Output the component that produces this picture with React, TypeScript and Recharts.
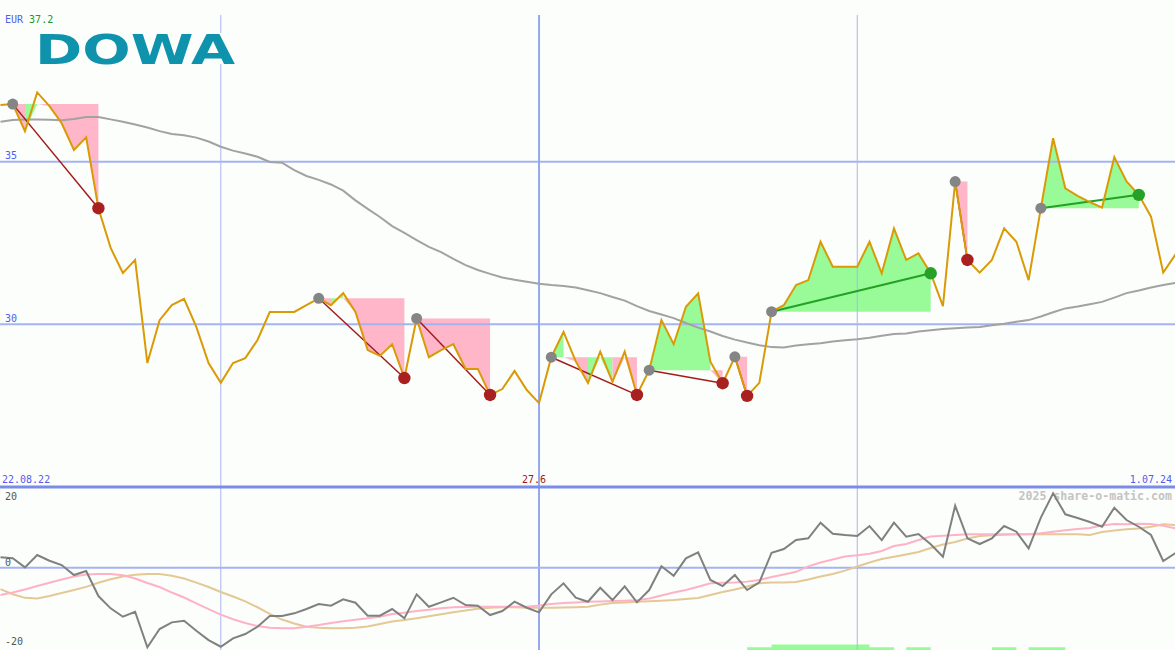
import React from 'react';
import { ComposedChart, Line, Area, XAxis, YAxis, ReferenceLine, ReferenceDot } from 'recharts';

// ---- weekly data (index 0 = 29.08.22) ----
const PRICE = [
  36.74, 36.77, 35.94, 37.13, 36.71, 36.18, 35.36, 35.75, 33.57, 32.35,
  31.58, 31.98, 28.81, 30.13, 30.59, 30.78, 29.92, 28.81, 28.2, 28.81,
  28.96, 29.52, 30.38, 30.38, 30.38, 30.59, 30.8, 30.59, 30.96, 30.38,
  29.21, 29.03, 29.39, 28.35, 30.18, 28.99, 29.21, 29.39, 28.63, 28.63,
  27.83, 28.01, 28.57, 27.98, 27.58, 28.99, 29.77, 28.86, 28.2, 29.16,
  28.23, 29.16, 27.83, 28.59, 30.13, 29.39, 30.54, 30.95, 28.85, 28.19,
  29.0, 27.8, 28.2, 30.39, 30.59, 31.21, 31.36, 32.54, 31.77, 31.77,
  31.77, 32.54, 31.57, 32.95, 31.98, 32.18, 31.57, 30.56, 34.39, 31.98,
  31.59, 31.98, 32.95, 32.54, 31.36, 33.57, 35.72, 34.18, 33.95, 33.76,
  33.59, 35.14, 34.39, 33.98, 33.31, 31.59, 32.15,
];
const MA = [
  36.23, 36.28, 36.3, 36.3, 36.29, 36.27, 36.31, 36.37, 36.37, 36.3,
  36.23, 36.14, 36.05, 35.94, 35.85, 35.81, 35.74, 35.62, 35.46, 35.34,
  35.25, 35.15, 34.99, 34.97, 34.74, 34.56, 34.44, 34.3, 34.11, 33.81,
  33.55, 33.3, 33.02, 32.81, 32.59, 32.38, 32.22, 32.01, 31.82, 31.67,
  31.55, 31.44, 31.37, 31.31, 31.25, 31.21, 31.18, 31.13, 31.05, 30.96,
  30.84, 30.73, 30.56, 30.41, 30.3, 30.19, 30.04, 29.9, 29.78, 29.64,
  29.53, 29.44, 29.36, 29.3, 29.29, 29.35, 29.39, 29.42, 29.47, 29.51,
  29.54, 29.59, 29.65, 29.7, 29.72, 29.78, 29.82, 29.86, 29.88, 29.9,
  29.92, 29.97, 30.02, 30.08, 30.13, 30.24, 30.37, 30.49, 30.55, 30.62,
  30.69, 30.82, 30.96, 31.04, 31.13, 31.21, 31.27,
];
const OSC = [
  2.97, 2.69, 0.11, 3.63, 2.0, 0.77, -2.09, -0.94, -8.09, -11.6,
  -14.0, -12.57, -22.74, -17.51, -15.6, -15.14, -18.0, -20.66, -22.57, -20.17,
  -18.94, -16.86, -13.8, -13.8, -13.03, -11.8, -10.37, -10.86, -9.03, -10.0,
  -13.71, -13.71, -11.8, -14.46, -7.6, -11.14, -9.89, -8.57, -10.66, -10.86,
  -13.51, -12.37, -9.71, -11.43, -12.74, -7.6, -4.46, -8.57, -9.71, -5.71,
  -9.23, -5.31, -9.89, -6.37, 0.4, -2.29, 2.69, 4.4, -3.51, -5.23,
  -2.09, -6.37, -4.17, 4.29, 5.34, 7.91, 8.4, 12.86, 9.71, 9.34,
  9.06, 11.91, 7.91, 12.86, 8.86, 9.63, 6.69, 3.14, 17.71, 8.4,
  6.77, 8.4, 11.91, 10.29, 5.54, 14.3, 21.26, 15.26, 14.2, 13.06,
  11.71, 17.14, 13.63, 11.71, 9.34, 1.91, 4.2,
];
const OSC_FAST = [
  -7.8, -7.09, -6.23, -5.23, -4.29, -3.37, -2.51, -1.94, -1.8, -1.8,
  -2.14, -3.09, -4.37, -5.51, -7.09, -8.51, -10.17, -11.8, -13.4, -14.71,
  -15.8, -16.66, -17.14, -17.31, -17.31, -16.83, -16.37, -15.8, -15.31, -14.86,
  -14.46, -14.03, -13.23, -12.83, -12.37, -11.97, -11.6, -11.31, -11.23, -11.14,
  -11.14, -11.14, -11.14, -11.14, -10.8, -10.37, -10.09, -9.91, -9.74, -9.63,
  -9.51, -9.43, -9.29, -8.8, -7.91, -7.06, -6.37, -5.43, -4.46, -4.31,
  -4.2, -3.97, -3.51, -2.66, -1.94, -1.17, 0.4, 1.51, 2.37, 3.23,
  3.54, 3.97, 4.77, 6.2, 6.8, 7.91, 8.91, 9.11, 9.34, 9.54,
  9.54, 9.54, 9.54, 9.54, 9.54, 9.83, 10.29, 10.69, 11.06, 11.34,
  12.06, 12.49, 12.4, 12.57, 12.49, 12.0, 11.23,
];
const OSC_SLOW = [
  -6.09, -7.57, -8.6, -8.8, -8.09, -7.23, -6.37, -5.46, -4.31, -3.29,
  -2.51, -2.03, -1.8, -1.8, -2.31, -3.09, -4.26, -5.51, -6.94, -8.23,
  -9.63, -11.29, -13.17, -14.8, -15.94, -16.83, -17.14, -17.31, -17.31, -17.11,
  -16.8, -16.09, -15.37, -14.94, -14.46, -13.89, -13.26, -12.71, -12.23, -11.71,
  -11.46, -11.29, -11.31, -11.4, -11.43, -11.43, -11.37, -11.26, -11.17, -10.54,
  -10.09, -9.91, -9.74, -9.57, -9.4, -9.23, -8.94, -8.66, -7.8, -6.94,
  -6.2, -5.37, -4.43, -4.2, -4.23, -4.09, -3.37, -2.51, -1.8, -0.83,
  0.34, 1.49, 2.49, 3.11, 3.77, 4.49, 5.63, 6.63, 7.34, 8.37,
  9.06, 9.31, 9.43, 9.54, 9.54, 9.54, 9.54, 9.54, 9.54, 9.34,
  10.2, 10.63, 10.97, 11.23, 11.69, 12.4, 12.2,
];
const SIGNAL_BARS = [
  0, 0, 0, 0, 0, 0, 0, 0, 0, 0,
  0, 0, 0, 0, 0, 0, 0, 0, 0, 0,
  0, 0, 0, 0, 0, 0, 0, 0, 0, 0,
  0, 0, 0, 0, 0, 0, 0, 0, 0, 0,
  0, 0, 0, 0, 0, 0, 0, 0, 0, 0,
  0, 0, 0, 0, 0, 0, 0, 0, 0, 0,
  0, 1, 1, 2, 2, 2, 2, 2, 2, 2,
  2, 1, 1, 0, 1, 1, 0, 0, 0, 0,
  0, 1, 1, 0, 1, 1, 1, 0, 0, 0,
  0, 0, 0, 0, 0, 0, 0,
];

// trades (entry / exit week index)
const TRADE_ENTRY = [1, 26, 34, 45, 53, 60, 63, 78, 85];
const TRADE_EXIT = [8, 33, 40, 52, 59, 61, 76, 79, 93];
const TRADE_WIN = [false, false, false, false, false, false, true, false, true];

// coloured fill spans inside the trades
const FILL_TRADE = [0, 0, 0, 1, 1, 1, 2, 3, 3, 3, 3, 4, 4, 5, 6, 7, 8];
const FILL_FROM = [1, 2, 3, 26, 27, 28, 34, 45, 46, 48, 50, 53, 58, 60, 63, 78, 85];
const FILL_TO = [2, 3, 8, 27, 28, 33, 40, 46, 48, 50, 52, 58, 59, 61, 76, 79, 93];
const FILL_COLOR = ['pink', 'green', 'pink', 'pink', 'green', 'pink', 'pink', 'green', 'pink', 'green', 'pink', 'green', 'pink', 'pink', 'green', 'pink', 'green'];
const FILL_SIDE = ['lo', 'lo', 'lo', 'lo', 'both', 'lo', 'lo', 'hi', 'lo', 'lo', 'lo', 'hi', 'lo', 'lo', 'hi', 'lo', 'hi'];

const TOP_TICK_POS = [18, 44, 70];
const TOP_TICK_LABELS = ['2.01.23', '3.07.23', '1.01.24'];
const START_LABEL = '22.08.22';
const END_LABEL = '1.07.24';
const PRICE_TICKS = [30, 35];
const OSC_TICKS = [20, 0, -20];
const CURRENCY = 'EUR';
const LAST_QUOTE = '37.2';
const NAME = 'DOWA';
const WATERMARK = '2025 share-o-matic.com';

const X_DOMAIN: [number, number] = [-0.04, 95.96];
const P_DOMAIN: [number, number] = [25, 39.97];
const O_DOMAIN: [number, number] = [-23.5, 23.06];

const MIN_IDX = PRICE.indexOf(Math.min(...PRICE));
const MIN_LABEL = Math.min(...PRICE).toFixed(1);

const rows = PRICE.map((p, i) => ({
  i,
  price: p,
  ma: MA[i],
  osc: OSC[i],
  fast: OSC_FAST[i],
  slow: OSC_SLOW[i],
  bar: SIGNAL_BARS[i],
}));

const BG = '#fbfefb';
const BLUE_TXT = '#5060ee';
const MONO = '"DejaVu Sans Mono", monospace';
const GRID = '#a6b3f2';
const GRID_V = '#aab5ef';
const GRID_MID = '#97a6ee';

const renderTopTick = (props: any) => {
  const { x, payload } = props;
  const k = TOP_TICK_POS.indexOf(payload.value);
  return (
    <text x={x} y={12.5} textAnchor="middle" fontFamily={MONO} fontSize={10} fill={BLUE_TXT}>
      {TOP_TICK_LABELS[k]}
    </text>
  );
};

const makeBottomLabel = (text: string, anchor: 'start' | 'middle' | 'end', dx: number, color: string) =>
  (props: any) => {
    const vb = props.viewBox || {};
    const cx = (vb.x ?? 0) + (vb.width ?? 0) / 2;
    const cy = (vb.y ?? 0) + (vb.height ?? 0) / 2;
    return (
      <text x={cx + dx} y={cy - 4} textAnchor={anchor} fontFamily={MONO} fontSize={10} fill={color}>
        {text}
      </text>
    );
  };

const renderPriceTick = (props: any) => {
  const { y, payload } = props;
  return (
    <text x={5} y={y - 2.5} textAnchor="start" fontFamily={MONO} fontSize={10} fill={BLUE_TXT}>
      {payload.value}
    </text>
  );
};

const OSC_LABEL_SHIFT: Record<string, number> = { '20': 2, '0': -2, '-20': 7.5 };
const renderOscTick = (props: any) => {
  const { y, payload } = props;
  return (
    <text x={5} y={y + (OSC_LABEL_SHIFT[String(payload.value)] ?? 0)} textAnchor="start" fontFamily={MONO} fontSize={10} fill="#555555">
      {payload.value}
    </text>
  );
};

export default function App() {
  return (
    <div style={{ position: 'absolute', left: 0, top: 0, width: 1175, height: 650, background: BG, overflow: 'hidden' }}>
      {/* watermark under the lower panel lines */}
      <div style={{ position: 'absolute', right: 3, top: 489, fontFamily: MONO, fontSize: 11.6, lineHeight: '14px', fontWeight: 'bold', color: '#c4c4c4', whiteSpace: 'pre' }}>
        {WATERMARK}
      </div>

      {/* lower panel */}
      <div style={{ position: 'absolute', left: 0, top: 487 }}>
        <ComposedChart width={1175} height={163} data={rows} margin={{ top: 0, right: 0, bottom: 0, left: 0 }}>
          <XAxis type="number" dataKey="i" domain={X_DOMAIN} allowDataOverflow hide />
          <YAxis yAxisId="o" domain={O_DOMAIN} allowDataOverflow ticks={OSC_TICKS} interval={0} mirror width={1} axisLine={false} tickLine={false} tick={renderOscTick} />
          <YAxis yAxisId="s" domain={[0, 58]} hide />
          <Area yAxisId="s" dataKey="bar" type="stepAfter" stroke="none" fill="#98fb98" fillOpacity={1} baseValue={0} isAnimationActive={false} dot={false} activeDot={false} />
          <ReferenceLine yAxisId="o" x={TOP_TICK_POS[0]} stroke={GRID_V} strokeWidth={1} />
          <ReferenceLine yAxisId="o" x={TOP_TICK_POS[1]} stroke={GRID_MID} strokeWidth={2} />
          <ReferenceLine yAxisId="o" x={TOP_TICK_POS[2]} stroke={GRID_V} strokeWidth={1} />
          <ReferenceLine yAxisId="o" y={0} stroke={GRID} strokeWidth={2} />
          <Line yAxisId="o" dataKey="slow" type="linear" stroke="#e4c896" strokeWidth={2} dot={false} activeDot={false} isAnimationActive={false} />
          <Line yAxisId="o" dataKey="fast" type="linear" stroke="#ffb2c6" strokeWidth={2} dot={false} activeDot={false} isAnimationActive={false} />
          <Line yAxisId="o" dataKey="osc" type="linear" stroke="#808080" strokeWidth={2} dot={false} activeDot={false} isAnimationActive={false} />
        </ComposedChart>
      </div>

      {/* upper panel */}
      <div style={{ position: 'absolute', left: 0, top: 0 }}>
        <ComposedChart width={1175} height={490} data={rows} margin={{ top: 0, right: 0, bottom: 3, left: 0 }}>
          <XAxis xAxisId="t" type="number" dataKey="i" domain={X_DOMAIN} allowDataOverflow orientation="top" height={0} ticks={TOP_TICK_POS} interval={0} axisLine={false} tickLine={false} tick={renderTopTick} />
          <YAxis yAxisId="p" domain={P_DOMAIN} allowDataOverflow ticks={PRICE_TICKS} interval={0} mirror width={1} axisLine={false} tickLine={false} tick={renderPriceTick} />

          {FILL_FROM.map((from, k) => {
            const to = FILL_TO[k];
            const level = PRICE[TRADE_ENTRY[FILL_TRADE[k]]];
            const side = FILL_SIDE[k];
            const key = (d: any) => {
              if (d.i < from || d.i > to) return null;
              let p = d.price;
              if (side === 'lo') p = Math.min(p, level);
              if (side === 'hi') p = Math.max(p, level);
              return [level, p];
            };
            return (
              <Area
                key={'fill' + k}
                xAxisId="t"
                yAxisId="p"
                type="linear"
                dataKey={key}
                stroke="none"
                fill={FILL_COLOR[k] === 'pink' ? '#ffb6c8' : '#98fb98'}
                fillOpacity={1}
                dot={false}
                activeDot={false}
                isAnimationActive={false}
              />
            );
          })}

          <ReferenceLine xAxisId="t" yAxisId="p" y={PRICE_TICKS[0]} stroke={GRID} strokeWidth={2} />
          <ReferenceLine xAxisId="t" yAxisId="p" y={PRICE_TICKS[1]} stroke={GRID} strokeWidth={2} />
          <ReferenceLine xAxisId="t" yAxisId="p" segment={[{ x: TOP_TICK_POS[0], y: 39.51 }, { x: TOP_TICK_POS[0], y: P_DOMAIN[0] }]} stroke={GRID_V} strokeWidth={1} />
          <ReferenceLine xAxisId="t" yAxisId="p" segment={[{ x: TOP_TICK_POS[1], y: 39.51 }, { x: TOP_TICK_POS[1], y: P_DOMAIN[0] }]} stroke={GRID_MID} strokeWidth={2} />
          <ReferenceLine xAxisId="t" yAxisId="p" segment={[{ x: TOP_TICK_POS[2], y: 39.51 }, { x: TOP_TICK_POS[2], y: P_DOMAIN[0] }]} stroke={GRID_V} strokeWidth={1} />
          <ReferenceLine xAxisId="t" yAxisId="p" y={P_DOMAIN[0]} stroke="#7b8ce8" strokeWidth={3} />

          <ReferenceDot xAxisId="t" yAxisId="p" x={X_DOMAIN[0]} y={P_DOMAIN[0]} r={0} fill="none" stroke="none" ifOverflow="visible" label={makeBottomLabel(START_LABEL, 'start', 2, BLUE_TXT)} />
          <ReferenceDot xAxisId="t" yAxisId="p" x={MIN_IDX} y={P_DOMAIN[0]} r={0} fill="none" stroke="none" ifOverflow="visible" label={makeBottomLabel(MIN_LABEL, 'middle', -5, '#a01818')} />
          <ReferenceDot xAxisId="t" yAxisId="p" x={X_DOMAIN[1]} y={P_DOMAIN[0]} r={0} fill="none" stroke="none" ifOverflow="visible" label={makeBottomLabel(END_LABEL, 'end', -3, BLUE_TXT)} />

          <Line xAxisId="t" yAxisId="p" dataKey="ma" type="linear" stroke="#a2a2a2" strokeWidth={2} dot={false} activeDot={false} isAnimationActive={false} />

          {TRADE_ENTRY.map((e, t) => {
            const x = TRADE_EXIT[t];
            const win = TRADE_WIN[t];
            const key = (d: any) => (d.i === e || d.i === x ? d.price : null);
            const dot = (p: any) => {
              const { cx, cy, payload, index } = p;
              if (cx == null || cy == null || !payload) return <g key={`d${t}-${index}`} />;
              if (payload.i === e) return <circle key={`d${t}-${index}`} cx={cx} cy={cy} r={5.5} fill="#858585" />;
              if (payload.i === x) return <circle key={`d${t}-${index}`} cx={cx} cy={cy} r={6.2} fill={win ? '#26a026' : '#a82020'} />;
              return <g key={`d${t}-${index}`} />;
            };
            return (
              <Line
                key={'trade' + t}
                xAxisId="t"
                yAxisId="p"
                type="linear"
                dataKey={key}
                connectNulls
                stroke={win ? '#24a024' : '#a31c1c'}
                strokeWidth={win ? 2 : 1.5}
                dot={dot}
                activeDot={false}
                isAnimationActive={false}
              />
            );
          })}

          <Line xAxisId="t" yAxisId="p" dataKey="price" type="linear" stroke="#da9a06" strokeWidth={2} dot={false} activeDot={false} isAnimationActive={false} />
        </ComposedChart>
      </div>

      {/* header texts */}
      <div style={{ position: 'absolute', left: 5, top: 14, fontFamily: MONO, fontSize: 10, lineHeight: '12px', whiteSpace: 'pre' }}>
        <span style={{ color: BLUE_TXT }}>{CURRENCY} </span>
        <span style={{ color: '#229922' }}>{LAST_QUOTE}</span>
      </div>
      <div style={{ position: 'absolute', left: 34, top: 33, width: 203, height: 31, background: BG }} />
      <svg width={220} height={60} style={{ position: 'absolute', left: 34, top: 20, overflow: 'visible' }}>
        <text x={1} y={43.5} fontFamily='"DejaVu Sans", sans-serif' fontWeight={900} fontSize={41} textLength={200} lengthAdjust="spacingAndGlyphs" fill="#0f93ad">
          {NAME}
        </text>
      </svg>
    </div>
  );
}
